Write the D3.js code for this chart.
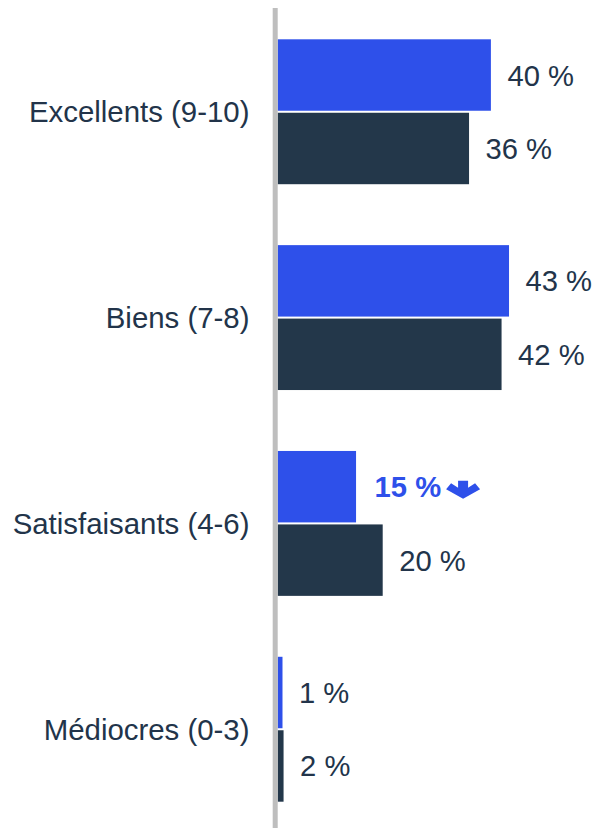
<!DOCTYPE html>
<html>
<head>
<meta charset="utf-8">
<script src="https://cdn.jsdelivr.net/npm/d3@7"></script>
<style>
  html, body { margin: 0; padding: 0; background: #ffffff; }
  svg { display: block; }
  text { font-family: "Liberation Sans", Arial, Helvetica, sans-serif; }
</style>
</head>
<body>
<div id="chart"></div>
<script>
const categories = ["Excellents (9-10)", "Biens (7-8)", "Satisfaisants (4-6)", "Médiocres (0-3)"];
const series = ["current", "previous"];
// bar lengths
const currentValues = [40, 43.4, 14.7, 0.9];
const previousValues = [35.9, 42, 19.7, 1.1];
const valueLabelsCurrent = ["40 %", "43 %", "15 %", "1 %"];
const valueLabelsPrevious = ["36 %", "42 %", "20 %", "2 %"];
const highlightDown = [false, false, true, false];

const W = 595, H = 828;
const colors = { current: "#2E50EA", previous: "#23374A" };
const textColor = "#22344A";

const svg = d3.select("#chart").append("svg").attr("width", W).attr("height", H);

const x = d3.scaleLinear().domain([0, 100]).range([277.7, 810.7]);
const y = d3.scaleBand().domain(categories).range([39.3, 801.7]).paddingInner(0.296).paddingOuter(0);
const ySub = d3.scaleBand().domain(series).range([0, y.bandwidth()]).paddingInner(0.0275);

const rows = categories.map((c, i) => ({
  cat: c,
  bars: [
    { s: "current", v: currentValues[i], label: valueLabelsCurrent[i], down: highlightDown[i] },
    { s: "previous", v: previousValues[i], label: valueLabelsPrevious[i], down: false }
  ]
}));

const g = svg.selectAll("g.row").data(rows).join("g")
  .attr("class", "row")
  .attr("transform", d => `translate(0,${y(d.cat)})`);

g.selectAll("rect").data(d => d.bars).join("rect")
  .attr("x", x(0))
  .attr("y", b => ySub(b.s))
  .attr("width", b => x(b.v) - x(0))
  .attr("height", ySub.bandwidth())
  .attr("fill", b => colors[b.s]);

const lbl = g.selectAll("g.vl").data(d => d.bars).join("g")
  .attr("class", "vl")
  .attr("transform", b => `translate(${x(b.v) + (b.down ? 18.5 : 16.5)},${ySub(b.s) + ySub.bandwidth() / 2})`);

lbl.append("text")
  .attr("dy", "0.36em")
  .attr("font-size", 29.2)
  .attr("font-weight", b => b.down ? "bold" : "normal")
  .attr("fill", b => b.down ? colors.current : textColor)
  .text(b => b.label);

lbl.filter(b => b.down).each(function() {
  const t = d3.select(this).select("text").node();
  const w = t.getComputedTextLength();
  d3.select(this).append("path")
    .attr("transform", `translate(${w + 22},-6)`)
    .attr("d", "M-5,0 L5,0 L5,7 L12,2.5 L17,8.5 L0,18 L-17,8.5 L-12,2.5 L-5,7 Z")
    .attr("fill", colors.current);
});

// category labels
svg.selectAll("text.cat").data(categories).join("text")
  .attr("class", "cat")
  .attr("x", 249.5)
  .attr("y", d => y(d) + y.bandwidth() / 2)
  .attr("dy", "0.36em")
  .attr("text-anchor", "end")
  .attr("font-size", 29.4)
  .attr("fill", textColor)
  .text(d => d);

// axis line
svg.append("line")
  .attr("x1", 275.2).attr("x2", 275.2)
  .attr("y1", 8).attr("y2", H)
  .attr("stroke", "#BEBEBE")
  .attr("stroke-width", 5);
</script>
</body>
</html>
